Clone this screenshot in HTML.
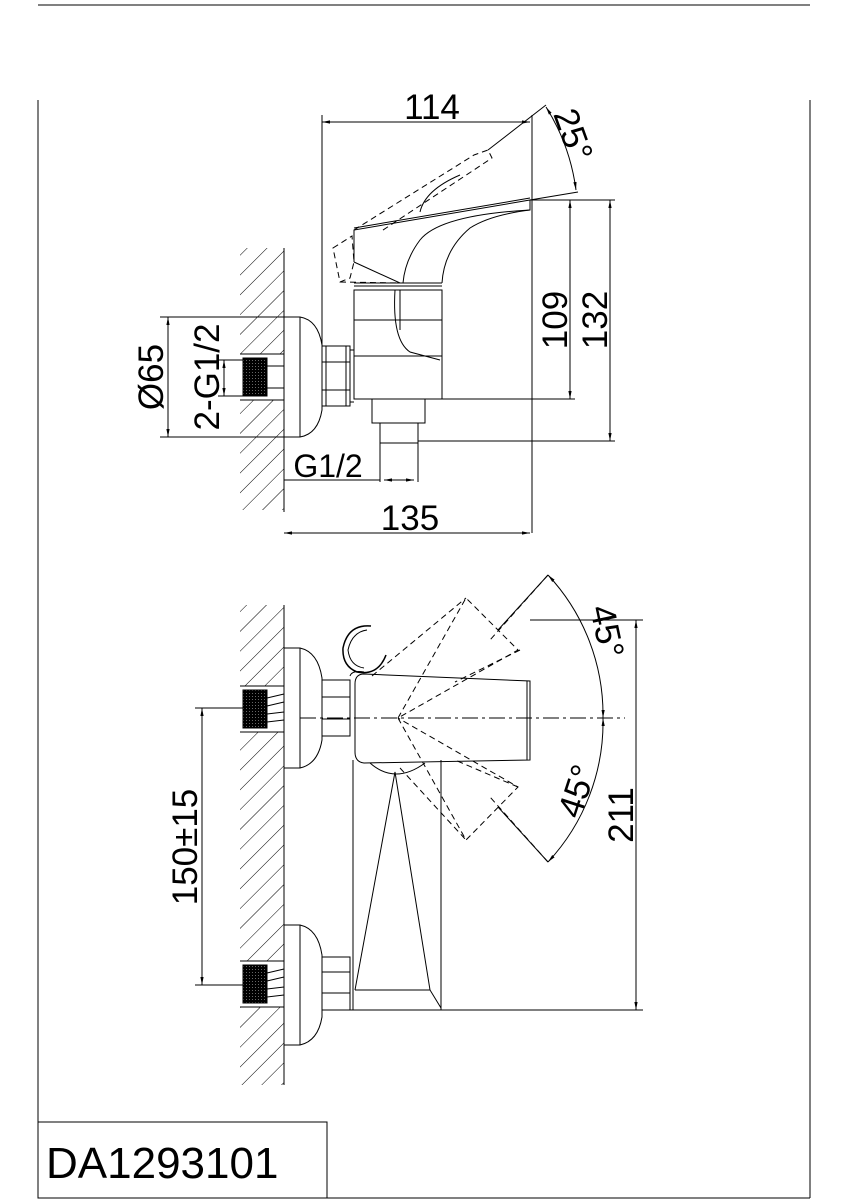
<!DOCTYPE html>
<html><head><style>
html,body{margin:0;padding:0;background:#fff;}
svg{display:block;}
text{font-family:"Liberation Sans",Arial,sans-serif;fill:#000;}
</style></head><body>
<svg width="848" height="1200" viewBox="0 0 848 1200" xmlns="http://www.w3.org/2000/svg">
<defs>
<pattern id="h" patternUnits="userSpaceOnUse" width="14" height="14" patternTransform="rotate(45)">
<line x1="0" y1="0" x2="0" y2="14" stroke="#000" stroke-width="1"/>
</pattern>
<pattern id="k" patternUnits="userSpaceOnUse" width="3" height="3">
<rect width="3" height="3" fill="#000"/><rect width="1" height="1" fill="#666"/>
</pattern>
<marker id="a" viewBox="0 0 10 10" refX="10" refY="5" markerWidth="8" markerHeight="8" orient="auto-start-reverse"><path d="M0,3 L10,5 L0,7 z" fill="#000"/></marker>
</defs>
<g stroke="#000" fill="none" stroke-width="1">
<line x1="38" y1="5" x2="810" y2="5"/>
<line x1="38" y1="100" x2="38" y2="1198"/>
<line x1="810" y1="100" x2="810" y2="1198"/>
<line x1="38" y1="1198" x2="810" y2="1198"/>
<rect x="38" y="1122" width="289" height="76"/>

<rect x="240" y="248" width="44" height="262" fill="url(#h)" stroke="none"/>
<rect x="236" y="354" width="48" height="46" fill="#fff" stroke="none"/>
<line x1="284" y1="248" x2="284" y2="512"/>
<line x1="240" y1="354" x2="284" y2="354"/>
<line x1="240" y1="400" x2="284" y2="400"/>
<rect x="243" y="358" width="24" height="38" fill="url(#k)" stroke="#000"/>
<line x1="267" y1="366" x2="284" y2="366"/><line x1="267" y1="388" x2="284" y2="388"/>
<path d="M284,317 L300,317 Q318,320 322,345 L322,410 Q318,434 300,437 L284,437"/>
<line x1="300" y1="317" x2="300" y2="437"/>
<rect x="322" y="346" width="28" height="60"/>
<line x1="326" y1="346" x2="326" y2="406"/><line x1="346" y1="346" x2="346" y2="406"/>
<line x1="322" y1="362" x2="350" y2="362"/><line x1="322" y1="390" x2="350" y2="390"/>
<line x1="350" y1="350" x2="354" y2="350"/><line x1="350" y1="402" x2="354" y2="402"/>
<rect x="354" y="290" width="88" height="109"/>
<line x1="354" y1="320" x2="442" y2="320"/>
<line x1="354" y1="356" x2="442" y2="356"/>
<path d="M395,290 Q392,340 410,352 L440,360"/>
<path d="M400,290 L400,330"/>
<line x1="354" y1="283" x2="442" y2="283"/>
<line x1="354" y1="286" x2="442" y2="286"/>
<path d="M354,262 L354,230 L530,200 L530,210 Q440,215 420,240 Q405,260 403,283 L400,283 L354,262"/>
<path d="M442,283 Q444,250 470,228 Q490,215 530,210"/>
<line x1="354" y1="228" x2="530" y2="198"/>
<g stroke-dasharray="6,4">
<path d="M354,230 L474,155 L488,150 L492,158 L380,232"/>
<path d="M333,248 L352,236 L354,262 L350,278 L340,282 Z"/>
<path d="M340,282 L400,283"/>
</g>
<path d="M420,212 Q425,190 460,175"/>
<path d="M372,399 L372,423 L425,423 L425,399"/>
<rect x="380" y="423" width="38" height="20"/>
<path d="M380,443 L380,482 M418,443 L418,482"/>
<line x1="322" y1="115" x2="322" y2="346"/>
<line x1="532" y1="115" x2="532" y2="533"/>
<line x1="322" y1="122" x2="530" y2="122" marker-start="url(#a)" marker-end="url(#a)"/>
<line x1="284" y1="533" x2="530" y2="533" marker-start="url(#a)" marker-end="url(#a)"/>
<line x1="284" y1="480" x2="380" y2="480"/>
<line x1="384" y1="480" x2="414" y2="480" marker-start="url(#a)" marker-end="url(#a)"/>
<line x1="530" y1="200" x2="615" y2="200"/>
<line x1="442" y1="399" x2="575" y2="399"/>
<line x1="418" y1="441" x2="615" y2="441"/>
<line x1="570" y1="200" x2="570" y2="399" marker-start="url(#a)" marker-end="url(#a)"/>
<line x1="610" y1="200" x2="610" y2="441" marker-start="url(#a)" marker-end="url(#a)"/>
<line x1="160" y1="317" x2="284" y2="317"/>
<line x1="160" y1="437" x2="284" y2="437"/>
<line x1="168" y1="317" x2="168" y2="437" marker-start="url(#a)" marker-end="url(#a)"/>
<line x1="218" y1="360" x2="243" y2="360"/>
<line x1="218" y1="396" x2="243" y2="396"/>
<line x1="224" y1="360" x2="224" y2="396" marker-start="url(#a)" marker-end="url(#a)"/>
<line x1="488" y1="150" x2="546" y2="105"/>
<line x1="530" y1="200" x2="578" y2="192"/>
<path d="M546,107 Q570,145 576,190" marker-start="url(#a)" marker-end="url(#a)"/>

<rect x="240" y="605" width="44" height="480" fill="url(#h)" stroke="none"/>
<rect x="236" y="686" width="48" height="46" fill="#fff" stroke="none"/>
<rect x="236" y="961" width="48" height="46" fill="#fff" stroke="none"/>
<line x1="284" y1="605" x2="284" y2="1085"/>
<line x1="240" y1="686" x2="284" y2="686"/><line x1="240" y1="732" x2="284" y2="732"/>
<line x1="240" y1="961" x2="284" y2="961"/><line x1="240" y1="1007" x2="284" y2="1007"/>
<rect x="243" y="690" width="24" height="38" fill="url(#k)" stroke="#000"/>
<rect x="243" y="965" width="24" height="38" fill="url(#k)" stroke="#000"/>
<path d="M267,698 L284,694 M267,706 L284,702 M267,714 L284,712 M267,722 L284,720"/>
<path d="M267,973 L284,969 M267,981 L284,977 M267,989 L284,987 M267,997 L284,995"/>
<path d="M284,648 L300,648 Q318,652 322,678 L322,740 Q318,764 300,768 L284,768"/>
<line x1="300" y1="648" x2="300" y2="768"/>
<path d="M284,925 L300,925 Q318,929 322,955 L322,1017 Q318,1041 300,1045 L284,1045"/>
<line x1="300" y1="925" x2="300" y2="1045"/>
<rect x="322" y="680" width="28" height="56"/>
<line x1="322" y1="697" x2="350" y2="697"/><line x1="322" y1="719" x2="350" y2="719"/>
<rect x="322" y="957" width="28" height="53"/>
<line x1="322" y1="972" x2="350" y2="972"/><line x1="322" y1="993" x2="350" y2="993"/>
<path d="M371,626 Q348,624 343,648 Q342,666 357,672 Q378,676 386,655" stroke-width="1.5"/>
<path d="M367,630 Q352,632 348,650 Q350,666 364,668"/>
<path d="M364,674 L530,681 L530,760 L364,763 Q355,762 355,752 L355,684 Q355,674 364,674 Z"/>
<line x1="527" y1="681" x2="527" y2="760"/>
<path d="M350,676 Q352,670 364,672"/>
<line x1="353" y1="760" x2="353" y2="1010"/>
<line x1="441" y1="760" x2="441" y2="1010"/>
<line x1="350" y1="1010" x2="441" y2="1010"/>
<path d="M355,990 L395,772 L430,990 L441,1008"/>
<line x1="355" y1="990" x2="430" y2="990"/>
<path d="M370,763 Q395,785 425,763"/>
<g stroke-dasharray="6,4">
<path d="M398,718 L466,598 L518,650 L398,718"/>
<path d="M372,676 L466,598 M520,650 L455,682"/>
<path d="M398,718 L466,840 L518,787 L398,718"/>
<path d="M400,768 L466,840 M518,787 L455,760"/>
</g>
<line x1="300" y1="718" x2="625" y2="718" stroke-dasharray="16,4,3,4"/>
<line x1="548" y1="575" x2="490" y2="640" stroke-dasharray="6,4"/>
<line x1="548" y1="862" x2="490" y2="797" stroke-dasharray="6,4"/>
<line x1="548" y1="575" x2="498" y2="630"/>
<line x1="548" y1="862" x2="498" y2="807"/>
<path d="M548,575 A205,205 0 0 1 603,718" marker-start="url(#a)" marker-end="url(#a)"/>
<path d="M603,718 A205,205 0 0 1 548,862" marker-start="url(#a)" marker-end="url(#a)"/>
<line x1="530" y1="620" x2="643" y2="620"/>
<line x1="441" y1="1010" x2="643" y2="1010"/>
<line x1="636" y1="620" x2="636" y2="1010" marker-start="url(#a)" marker-end="url(#a)"/>
<line x1="195" y1="708" x2="243" y2="708"/>
<line x1="195" y1="985" x2="243" y2="985"/>
<line x1="202" y1="708" x2="202" y2="985" marker-start="url(#a)" marker-end="url(#a)"/>
</g>
<g font-size="35">
<text x="432" y="119" text-anchor="middle">114</text>
<text x="410" y="530" text-anchor="middle">135</text>
<text x="328" y="477" text-anchor="middle" font-size="32">G1/2</text>
<text transform="translate(567,320) rotate(-90)" text-anchor="middle">109</text>
<text transform="translate(607,320) rotate(-90)" text-anchor="middle">132</text>
<text transform="translate(163,377) rotate(-90)" text-anchor="middle">Ø65</text>
<text transform="translate(219,377) rotate(-90)" text-anchor="middle">2-G1/2</text>
<text transform="translate(553,114) rotate(70)">25°</text>
<text transform="translate(590,608) rotate(78)">45°</text>
<text transform="translate(580,820) rotate(-72)">45°</text>
<text transform="translate(633,815) rotate(-90)" text-anchor="middle">211</text>
<text transform="translate(197,847) rotate(-90)" text-anchor="middle">150±15</text>
<text x="46" y="1178" font-size="44">DA1293101</text>
</g>
</svg>
</body></html>
